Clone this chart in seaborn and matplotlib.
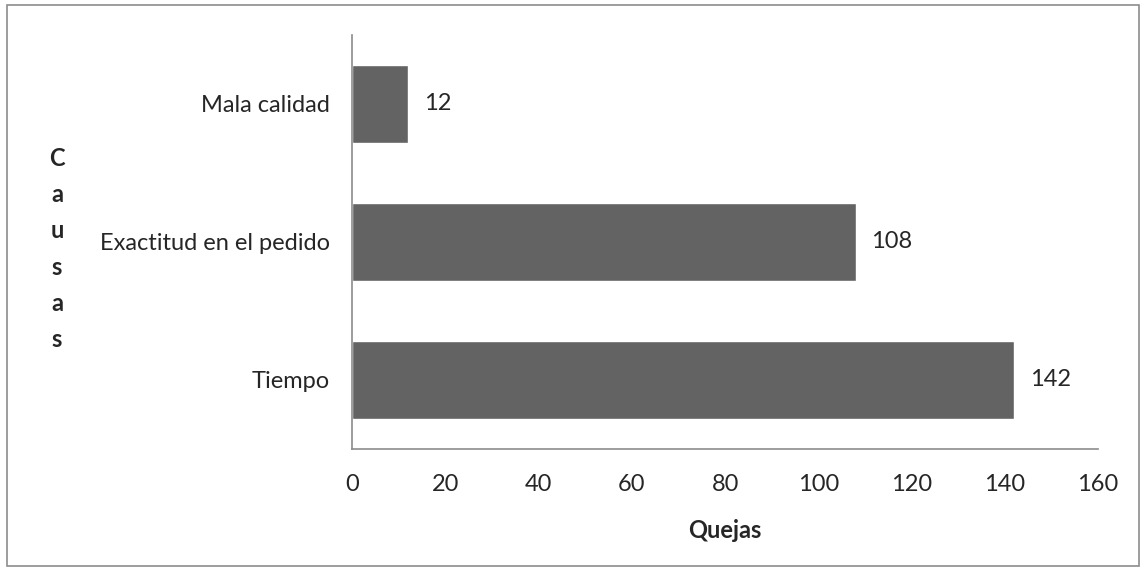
import matplotlib
matplotlib.use("Agg")
import matplotlib.pyplot as plt
import seaborn as sns
import pandas as pd
from matplotlib.patches import Rectangle

causas = ["Mala calidad", "Exactitud en el pedido", "Tiempo"]
quejas = [12, 108, 142]
xticks = [0, 20, 40, 60, 80, 100, 120, 140, 160]

sns.set_style("white")
plt.rcParams['font.family'] = ['Lato', 'DejaVu Sans']
fs = 17

df = pd.DataFrame({"causa": causas, "quejas": quejas})

fig = plt.figure(figsize=(11.46, 5.69), dpi=100)
ax = fig.add_axes([0.3072, 0.2109, 0.6510, 0.7276])

sns.barplot(data=df, x="quejas", y="causa", color="#636363", saturation=1,
            width=0.565, ax=ax, orient="h")

# value labels next to bars
for i, v in enumerate(quejas):
    ax.text(v + 3.4, i, str(v), va="center", ha="left", fontsize=fs)

ax.set_xlim(0, 160)
ax.set_xticks(xticks)
ax.set_xticklabels([str(t) for t in xticks], fontsize=fs)
ax.tick_params(axis="y", labelsize=fs, length=0, pad=16)
ax.tick_params(axis="x", length=0, pad=18)
ax.set_xlabel("")
ax.set_ylabel("")
for s in ["top", "right"]:
    ax.spines[s].set_visible(False)
for s in ["left", "bottom"]:
    ax.spines[s].set_color("#8c8c8c")
    ax.spines[s].set_linewidth(1.2)

# axis titles
fig.text(0.6325, 0.068, "Quejas", ha="center", va="center", fontsize=fs, fontweight="bold")
fig.text(0.0497, 0.5624, "\n".join("Causas"), ha="center", va="center", fontsize=fs,
         fontweight="bold", linespacing=1.70)

# chart area border
fig.patches.append(Rectangle((0.006, 0.006), 0.988, 0.985, transform=fig.transFigure,
                             fill=False, edgecolor="#8c8c8c", linewidth=1.2))

fig.savefig("out.png", dpi=100)
